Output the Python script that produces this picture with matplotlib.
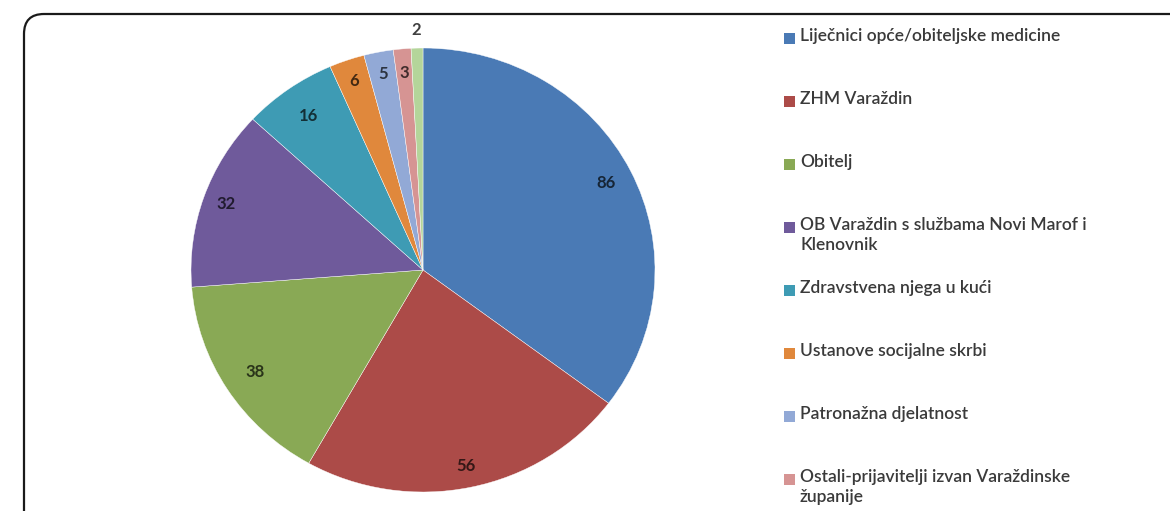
import numpy as np
import matplotlib
matplotlib.use("Agg")
import matplotlib.pyplot as plt
from matplotlib.patches import FancyBboxPatch, Rectangle
from matplotlib.transforms import IdentityTransform
from matplotlib.colors import to_rgb

categories = [
    "Liječnici opće/obiteljske medicine",
    "ZHM Varaždin",
    "Obitelj",
    "OB Varaždin s službama Novi Marof i\nKlenovnik",
    "Zdravstvena njega u kući",
    "Ustanove socijalne skrbi",
    "Patronažna djelatnost",
    "Ostali-prijavitelji izvan Varaždinske\nžupanije",
    "",
]
values = [86, 56, 38, 32, 16, 6, 5, 3, 2]
colors = ["#4A7AB5", "#AC4B48", "#89A955", "#6F5A9B", "#3E9BB4",
          "#E0883C", "#92A9D6", "#D69493", "#B4D59A"]
# radial position of each value label (fraction of radius)
label_radius = [0.88, 0.90, 0.86, 0.90, 0.85, 0.90, 0.90, 0.89, 1.08]

W, H = 1170, 511
plt.rcParams["font.family"] = ["Lato", "DejaVu Sans"]

fig = plt.figure(figsize=(W / 100, H / 100), dpi=100)
fig.patch.set_facecolor("white")

# pie bounding box in pixels (slightly elliptical, as in the source image)
px_left, px_right, px_top, px_bottom = 191, 655, 48, 492
ax = fig.add_axes([px_left / W, (H - px_bottom) / H,
                   (px_right - px_left) / W, (px_bottom - px_top) / H])

wedges, _ = ax.pie(values, colors=colors, startangle=90, counterclock=False,
                   radius=1.0, wedgeprops=dict(edgecolor="white", linewidth=0.3))
ax.set_aspect("auto")
ax.set_xlim(-1, 1)
ax.set_ylim(-1, 1)
ax.axis("off")

total = float(sum(values))
start = 90.0
for val, col, r in zip(values, colors, label_radius):
    sweep = val / total * 360.0
    mid = np.deg2rad(start - sweep / 2)
    start -= sweep
    dark = tuple(c * 0.3 for c in to_rgb(col))
    if r > 1:
        dark = "#404040"
    ax.text(r * np.cos(mid), r * np.sin(mid), str(val), ha="center", va="center",
            fontsize=12, fontweight="bold", color=dark)

# legend drawn by hand: Excel-style fixed slots
leg_x, leg_y0, leg_step, box = 784, 38, 63, 11
for i, (lab, col) in enumerate(zip(categories[:8], colors[:8])):
    yc = leg_y0 + i * leg_step
    fig.add_artist(Rectangle((leg_x, H - yc - box / 2), box, box,
                             facecolor=col, edgecolor="none",
                             transform=IdentityTransform()))
    fig.text((leg_x + box + 5) / W, (H - yc + 10) / H, lab, ha="left", va="top",
             fontsize=12.5, fontweight="semibold", color="#3a3a3a",
             linespacing=1.3)

# rounded frame around the chart (cut off at the right and bottom)
frame = FancyBboxPatch((24, -40), W + 40, H - 14 + 40,
                       boxstyle="round,pad=0,rounding_size=20",
                       facecolor="none", edgecolor="#1a1a1a", linewidth=1.6,
                       transform=IdentityTransform())
fig.add_artist(frame)

fig.savefig("out.png", dpi=100)
